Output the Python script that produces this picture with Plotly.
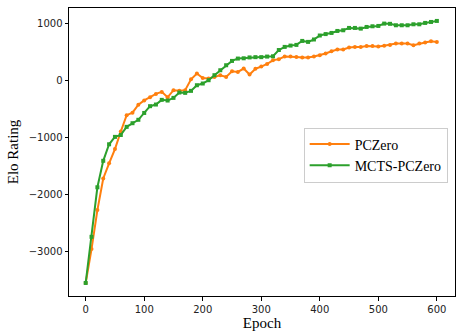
import plotly.graph_objects as go

epochs = list(range(0, 601, 10))

pczero = [-3560, -2965, -2280, -1725, -1460, -1210, -900, -614, -570, -430,
          -355, -300, -240, -205, -300, -175, -185, -175, 15, 117,
          40, 29, 58, 88, 58, 158, 146, 205, 100, 200,
          240, 285, 350, 370, 415, 415, 409, 398, 398, 415,
          440, 470, 509, 538, 538, 573, 585, 585, 602, 602,
          590, 605, 620, 643, 643, 643, 614, 643, 661, 684, 673]

mcts_pczero = [-3560, -2750, -1880, -1415, -1125, -995, -962, -819, -755, -695,
               -575, -456, -427, -345, -357, -310, -216, -222, -187, -88,
               -58, 0, 88, 175, 263, 339, 380, 385, 400, 405,
               405, 415, 420, 530, 585, 608, 620, 690, 673, 715,
               785, 810, 830, 865, 877, 918, 918, 906, 935, 947,
               953, 994, 990, 965, 965, 965, 982, 982, 1006, 1023, 1041]

x_ticks = [0, 100, 200, 300, 400, 500, 600]
y_ticks = [-3000, -2000, -1000, 0, 1000]

fig = go.Figure()
fig.add_trace(go.Scatter(x=epochs, y=pczero, name="PCZero", mode="lines+markers",
                         line=dict(color="#ff7f0e", width=2),
                         marker=dict(symbol="circle", size=4, color="#ff7f0e")))
fig.add_trace(go.Scatter(x=epochs, y=mcts_pczero, name="MCTS-PCZero", mode="lines+markers",
                         line=dict(color="#2ca02c", width=2),
                         marker=dict(symbol="square", size=4, color="#2ca02c")))

axis_common = dict(showgrid=False, zeroline=False, showline=True, linecolor="black",
                   linewidth=1, mirror=True, ticks="outside", ticklen=3.5,
                   tickcolor="black", tickwidth=1,
                   tickfont=dict(family="DejaVu Sans", size=10, color="#222"))

fig.update_xaxes(range=[-28.5, 631], tickvals=x_ticks,
                 title=dict(text="Epoch", font=dict(family="Liberation Serif", size=15, color="black"),
                            standoff=3), **axis_common)
fig.update_yaxes(range=[-3789, 1268], tickvals=y_ticks,
                 title=dict(text="Elo Rating", font=dict(family="Liberation Serif", size=15, color="black"),
                            standoff=6), **axis_common)

fig.update_layout(
    width=456, height=333,
    margin=dict(l=69, r=1, t=8, b=37),
    plot_bgcolor="white", paper_bgcolor="white",
    legend=dict(x=0.981, y=0.585, xanchor="right", yanchor="top",
                bordercolor="#cccccc", borderwidth=1, bgcolor="rgba(255,255,255,0.8)",
                font=dict(family="Liberation Serif", size=14, color="black"),
                itemwidth=40, tracegroupgap=0),
    showlegend=True,
)

fig.write_html("out.html")
